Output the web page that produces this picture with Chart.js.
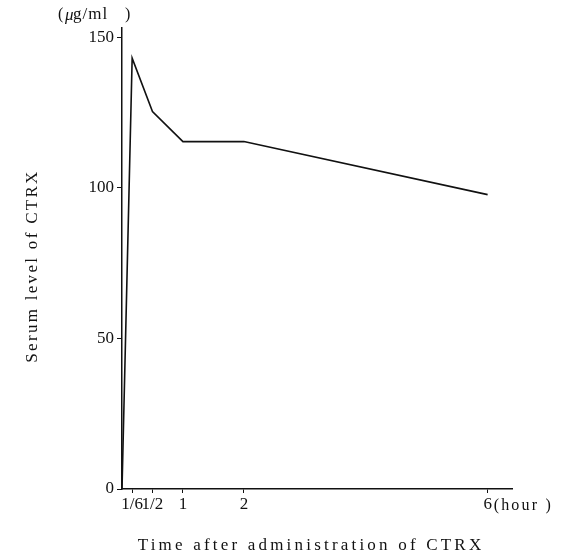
<!DOCTYPE html>
<html>
<head>
<meta charset="utf-8">
<script src="https://cdn.jsdelivr.net/npm/chart.js@4"></script>
<style>
	body { margin: 0; background: #fff; }
</style>
</head>
<body>
<canvas id="c" width="563" height="555"></canvas>
<script>
// time after administration (hours) and serum level (ug/ml)
var hours = [0, 1 / 6, 1 / 2, 1, 2, 6];
var serum = [0, 143, 125.3, 115.3, 115.3, 97.7];

var xTickValues = [1 / 6, 1 / 2, 1, 2, 6];
var xTickLabels = ["1/6", "1/2", "1", "2", "6"];
var yTickValues = [0, 50, 100, 150];

var serif = '"Liberation Serif", "DejaVu Serif", serif';

// extra text drawn on the canvas: axis titles and units
var textPlugin = {
	id: "texts",
	afterDraw: function (chart) {
		var ctx = chart.ctx;
		ctx.save();
		ctx.fillStyle = "#111";
		ctx.textBaseline = "middle";
		ctx.font = "17px " + serif;
		ctx.letterSpacing = "3.2px";
		ctx.textAlign = "center";
		ctx.fillText("Time after administration of CTRX", 311, 546);

		ctx.save();
		ctx.translate(33, 266);
		ctx.rotate(-Math.PI / 2);
		ctx.letterSpacing = "2.3px";
		ctx.fillText("Serum level of CTRX", 0, 0);
		ctx.restore();

		// unit label
		ctx.letterSpacing = "1px";
		ctx.font = "16px " + serif;
		ctx.textAlign = "left";
		ctx.fillText("(", 58, 15);
		ctx.font = "italic 17px " + serif;
		ctx.fillText("\u03bc", 65, 16);
		ctx.font = "17px " + serif;
		ctx.fillText("g/ml", 73, 15);
		ctx.font = "16px " + serif;
		ctx.fillText(")", 125, 15);

		ctx.letterSpacing = "2.2px";
		var x6 = chart.scales.x.getPixelForValue(6);
		ctx.fillText("(hour )", x6 + 6, 506);
		ctx.restore();
	}
};

var ctx = document.getElementById("c");

var chart = new Chart(ctx, {
	type: "line",
	data: {
		datasets: [{
			data: hours.map(function (h, i) { return { x: h, y: serum[i] }; }),
			borderColor: "#111",
			borderWidth: 1.6,
			fill: false,
			lineTension: 0,
			pointRadius: 0
		}]
	},
	options: {
		responsive: false,
		animation: false,
		devicePixelRatio: 1,
		layout: { padding: { top: 28, right: 51, left: 0, bottom: 0 } },
		plugins: {
			legend: { display: false },
			tooltip: { enabled: false }
		},
		scales: {
			x: {
				type: "linear",
				min: 0,
				max: 6.4,
				afterBuildTicks: function (scale) {
					scale.ticks = xTickValues.map(function (v) { return { value: v }; });
				},
				afterFit: function (scale) { scale.height = 66; },
				ticks: {
					autoSkip: false,
					maxRotation: 0,
					padding: 1,
					color: "#111",
					font: { family: serif, size: 17 },
					callback: function (v) {
						var i = xTickValues.indexOf(v);
						return i >= 0 ? xTickLabels[i] : "";
					}
				},
				grid: { drawOnChartArea: false, tickLength: 4, color: "#111", lineWidth: 1 },
				border: { color: "#111", width: 1.5 }
			},
			y: {
				min: 0,
				max: 153,
				afterBuildTicks: function (scale) {
					scale.ticks = yTickValues.map(function (v) { return { value: v }; });
				},
				afterFit: function (scale) { scale.width = 122; },
				ticks: {
					padding: 3,
					color: "#111",
					font: { family: serif, size: 17 }
				},
				grid: { drawOnChartArea: false, tickLength: 5, color: "#111", lineWidth: 1 },
				border: { color: "#111", width: 1.5 }
			}
		}
	},
	plugins: [textPlugin]
});
</script>
</body>
</html>
